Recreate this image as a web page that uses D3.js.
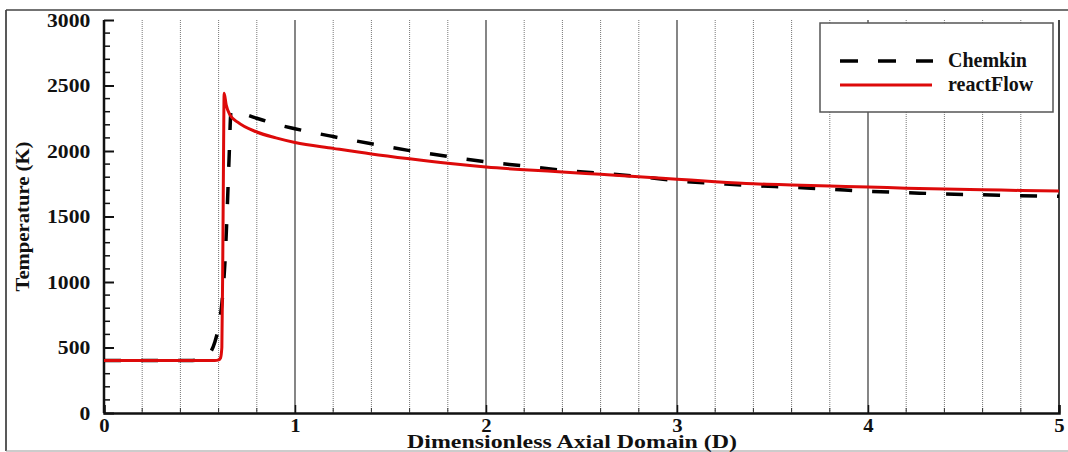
<!DOCTYPE html>
<html>
<head>
<meta charset="utf-8">
<script src="https://cdn.jsdelivr.net/npm/d3@7"></script>
<style>
  html, body { margin: 0; padding: 0; background: #fff; }
  svg { display: block; }
  text { font-family: "Liberation Serif", "Times New Roman", serif; font-weight: bold; fill: #111; }
</style>
</head>
<body>
<svg id="chart" width="1068" height="452"></svg>
<script>
// ---- data ----
const chemkinX = [0, 0.45, 0.5, 0.55, 0.58, 0.6, 0.62, 0.635, 0.645, 0.655, 0.665, 0.7, 0.8, 0.9, 1.0, 1.2, 1.4, 1.6, 1.8, 2.0, 2.2, 2.4, 2.6, 2.8, 3.0, 3.2, 3.4, 3.6, 3.8, 4.0, 4.2, 4.4, 4.6, 4.8, 5.0];
const chemkinT = [400, 400, 410, 450, 540, 660, 880, 1200, 1550, 1950, 2300, 2295, 2250, 2205, 2170, 2110, 2055, 2003, 1958, 1917, 1886, 1853, 1830, 1806, 1772, 1753, 1735, 1723, 1708, 1692, 1682, 1672, 1666, 1659, 1655];
const reactX = [0, 0.58, 0.6, 0.61, 0.617, 0.622, 0.626, 0.629, 0.64, 0.66, 0.7, 0.8, 0.9, 1.0, 1.2, 1.4, 1.6, 1.8, 2.0, 2.2, 2.4, 2.6, 2.8, 3.0, 3.2, 3.4, 3.6, 3.8, 4.0, 4.2, 4.4, 4.6, 4.8, 5.0];
const reactT = [400, 400, 405, 420, 500, 1200, 2000, 2440, 2350, 2275, 2220, 2145, 2100, 2065, 2020, 1977, 1940, 1906, 1878, 1857, 1840, 1822, 1804, 1785, 1766, 1750, 1740, 1732, 1725, 1716, 1709, 1704, 1699, 1694];
const xTicks = [0, 1, 2, 3, 4, 5];
const yTicks = [0, 500, 1000, 1500, 2000, 2500, 3000];
const seriesNames = ["Chemkin", "reactFlow"];
const xTitle = "Dimensionless Axial Domain (D)";
const yTitle = "Temperature (K)";

// ---- layout ----
const svg = d3.select("#chart");
const pLeft = 104, pRight = 1059, pTop = 20, pBottom = 413;
const x = d3.scaleLinear().domain([0, 5]).range([pLeft, pRight]);
const y = d3.scaleLinear().domain([0, 3000]).range([pBottom, pTop]);

// outer frame
svg.append("line").attr("x1", 6).attr("x2", 6).attr("y1", 10).attr("y2", 451).attr("stroke", "#222").attr("stroke-width", 1.5);
svg.append("line").attr("x1", 6).attr("x2", 1068).attr("y1", 10).attr("y2", 10).attr("stroke", "#444").attr("stroke-width", 1.5);
svg.append("line").attr("x1", 6).attr("x2", 1068).attr("y1", 451).attr("y2", 451).attr("stroke", "#999").attr("stroke-width", 1);

// minor vertical grid
const minor = d3.range(0.2, 5, 0.2).filter(v => Math.abs(v - Math.round(v)) > 1e-6);
svg.append("g").selectAll("line").data(minor).join("line")
  .attr("x1", d => x(d)).attr("x2", d => x(d)).attr("y1", pTop).attr("y2", pBottom)
  .attr("stroke", "#777").attr("stroke-width", 1).attr("stroke-dasharray", "1,1");
// major vertical grid
svg.append("g").selectAll("line").data([1, 2, 3, 4, 5]).join("line")
  .attr("x1", d => x(d)).attr("x2", d => x(d)).attr("y1", pTop).attr("y2", pBottom)
  .attr("stroke", "#444").attr("stroke-width", d => d === 5 ? 2 : 1.3);

// x axis
const xAxis = d3.axisBottom(x).tickValues(xTicks).tickSize(-8).tickPadding(8).tickFormat(d3.format("d"));
const gx = svg.append("g").attr("transform", `translate(0,${pBottom})`).call(xAxis);
gx.select(".domain").attr("stroke", "#111").attr("stroke-width", 2.5);
gx.selectAll(".tick line").attr("stroke", "#111").attr("stroke-width", 1.5);
gx.selectAll(".tick text").attr("y", 19.5).attr("dy", null)
  .style("font-size", "18.5px").style("font-family", "Liberation Serif").style("font-weight", "bold")
  .attr("fill", "#111").attr("transform", "scale(1.12,1)");
// x minor ticks
svg.append("g").selectAll("line").data(minor).join("line")
  .attr("x1", d => x(d)).attr("x2", d => x(d)).attr("y1", pBottom).attr("y2", pBottom - 5)
  .attr("stroke", "#333").attr("stroke-width", 1);

// y axis
const yAxis = d3.axisLeft(y).tickValues(yTicks).tickSize(-10).tickPadding(12).tickFormat(d3.format("d"));
const gy = svg.append("g").attr("transform", `translate(${pLeft},0)`).call(yAxis);
gy.select(".domain").attr("stroke", "#111").attr("stroke-width", 2.5).attr("d", `M0,${pTop}V${pBottom}`);
gy.selectAll(".tick line").attr("stroke", "#111").attr("stroke-width", 2);
gy.selectAll(".tick text").style("font-size", "19px").style("font-family", "Liberation Serif").style("font-weight", "bold")
  .attr("fill", "#111").attr("transform", "scale(1.14,1)");
const yMinor = d3.range(100, 3000, 100).filter(v => v % 500 !== 0);
svg.append("g").selectAll("line").data(yMinor).join("line")
  .attr("x1", pLeft).attr("x2", pLeft + 6).attr("y1", d => y(d)).attr("y2", d => y(d))
  .attr("stroke", "#111").attr("stroke-width", 1.5);

// lines
const line = d3.line().x(d => x(d[0])).y(d => y(d[1])).curve(d3.curveMonotoneX);
svg.append("path").datum(chemkinX.map((v, i) => [v, chemkinT[i]]))
  .attr("d", line).attr("fill", "none").attr("stroke", "#000").attr("stroke-width", 3.5)
  .attr("stroke-dasharray", "17,20");
svg.append("path").datum(reactX.map((v, i) => [v, reactT[i]]))
  .attr("d", line).attr("fill", "none").attr("stroke", "#dd0a0a").attr("stroke-width", 3);

// axis titles
svg.append("text").attr("x", 572).attr("y", 448).attr("text-anchor", "middle")
  .attr("textLength", 330).attr("lengthAdjust", "spacingAndGlyphs")
  .style("font-size", "18px").text(xTitle);
svg.append("text").attr("transform", `translate(29,${(pTop + pBottom) / 2}) rotate(-90)`)
  .attr("text-anchor", "middle").attr("textLength", 150).attr("lengthAdjust", "spacingAndGlyphs")
  .style("font-size", "18px").text(yTitle);

// legend
const lg = svg.append("g");
lg.append("rect").attr("x", 820).attr("y", 23).attr("width", 233).attr("height", 89)
  .attr("fill", "#fff").attr("stroke", "#555").attr("stroke-width", 1.5);
lg.append("line").attr("x1", 840).attr("x2", 933).attr("y1", 61).attr("y2", 61)
  .attr("stroke", "#000").attr("stroke-width", 3.5).attr("stroke-dasharray", "18,20");
lg.append("line").attr("x1", 840).attr("x2", 932).attr("y1", 85).attr("y2", 85)
  .attr("stroke", "#dd0a0a").attr("stroke-width", 3);
lg.append("text").attr("x", 948).attr("y", 67).style("font-size", "20px").text(seriesNames[0]);
lg.append("text").attr("x", 948).attr("y", 91).style("font-size", "20px").text(seriesNames[1]);
</script>
</body>
</html>
